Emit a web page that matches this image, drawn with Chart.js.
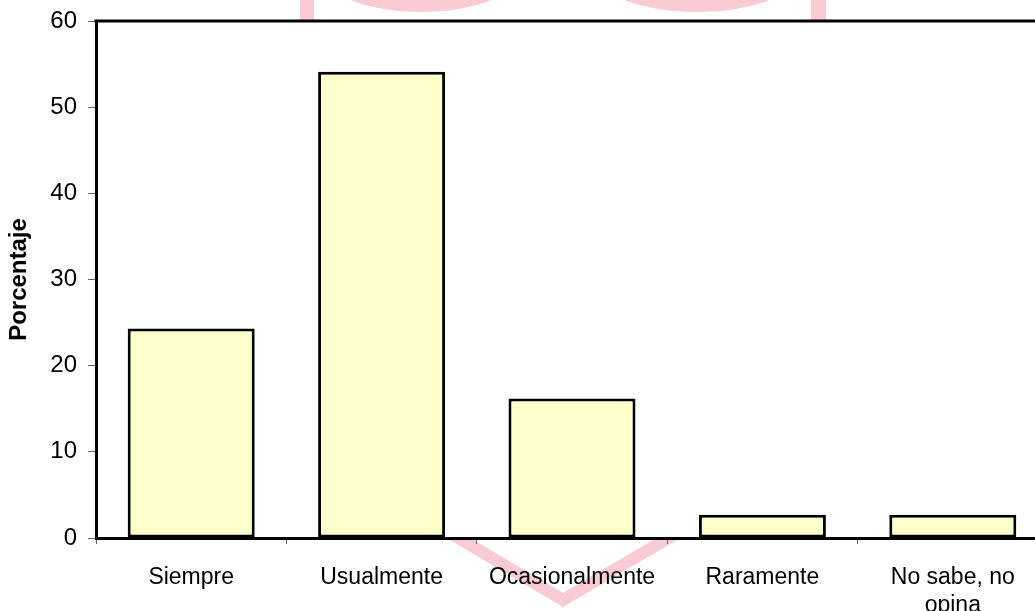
<!DOCTYPE html>
<html>
<head>
<meta charset="utf-8">
<script src="https://cdn.jsdelivr.net/npm/chart.js@4.4.0/dist/chart.umd.min.js"></script>
<style>
  html, body { margin: 0; padding: 0; background: #fff; overflow: hidden; }
  #wrap { width: 1050px; height: 611px; }
</style>
</head>
<body>
<div id="wrap"><canvas id="freqChart"></canvas></div>
<script>
const categories = ['Siempre', 'Usualmente', 'Ocasionalmente', 'Raramente', ['No sabe, no', 'opina']];
const porcentajes = [24.3, 54.1, 16.2, 2.7, 2.7];
const yTicks = [0, 10, 20, 30, 40, 50, 60];

const fontFamily = "'Liberation Sans', Arial, sans-serif";

// marca de agua rosa detras del area del grafico + borde superior
const fondo = {
    id: 'fondo',
    beforeDraw(chart) {
        const { ctx, chartArea: a } = chart;
        ctx.save();
        ctx.fillStyle = '#f9ccd5';
        ctx.strokeStyle = '#f9ccd5';
        ctx.beginPath();
        ctx.ellipse(421, -25, 95, 37, 0, 0, Math.PI * 2);
        ctx.fill();
        ctx.beginPath();
        ctx.ellipse(697, -25, 98, 37, 0, 0, Math.PI * 2);
        ctx.fill();
        ctx.fillRect(300, 0, 14, a.top);
        ctx.fillRect(811, 0, 15, a.top);
        ctx.lineWidth = 12;
        ctx.lineJoin = 'miter';
        ctx.beginPath();
        ctx.moveTo(445, 530);
        ctx.lineTo(563, 600);
        ctx.lineTo(682, 530);
        ctx.stroke();
        ctx.fillStyle = '#fff';
        ctx.fillRect(a.left, a.top, a.right - a.left, a.bottom - a.top);
        ctx.restore();
    },
    afterDraw(chart) {
        const { ctx, chartArea: a } = chart;
        ctx.save();
        ctx.strokeStyle = '#000';
        ctx.lineWidth = 3;
        ctx.beginPath();
        ctx.moveTo(a.left - 1.5, a.top);
        ctx.lineTo(a.right, a.top);
        ctx.stroke();
        ctx.restore();
    },
};

new Chart(document.getElementById('freqChart'), {
    type: 'bar',
    data: {
        labels: categories,
        datasets: [
            {
                label: 'Porcentaje',
                data: porcentajes,
                backgroundColor: '#ffffcc',
                borderColor: '#000',
                borderWidth: 3,
                borderSkipped: false,
                categoryPercentage: 1,
                barPercentage: 0.667,
            },
        ],
    },
    options: {
        responsive: true,
        maintainAspectRatio: false,
        animation: false,
        layout: { padding: { top: 21, right: 2, left: 0, bottom: 0 } },
        plugins: {
            legend: { display: false },
            tooltip: { enabled: false },
        },
        scales: {
            x: {
                grid: { drawOnChartArea: false, tickLength: 6, tickColor: '#666', offset: true },
                border: { display: true, color: '#000', width: 3 },
                ticks: {
                    color: '#000',
                    padding: 20,
                    maxRotation: 0,
                    autoSkip: false,
                    font: { family: fontFamily, size: 23 },
                },
                afterFit: (s) => { s.height = 73; },
            },
            y: {
                min: 0,
                max: 60,
                grid: { drawOnChartArea: false, tickLength: 8, tickColor: '#666' },
                border: { display: true, color: '#000', width: 3 },
                ticks: {
                    color: '#000',
                    padding: 11,
                    font: { family: fontFamily, size: 24 },
                },
                afterBuildTicks: (s) => { s.ticks = yTicks.map((v) => ({ value: v })); },
                afterFit: (s) => {
                    s.width = 96;
                    s.paddingTop = 0;
                    s.paddingBottom = 0;
                },
                title: {
                    display: true,
                    text: 'Porcentaje',
                    color: '#000',
                    padding: 5,
                    font: { family: fontFamily, size: 24, weight: 'bold' },
                },
            },
        },
    },
    plugins: [fondo],
});
</script>
</body>
</html>
